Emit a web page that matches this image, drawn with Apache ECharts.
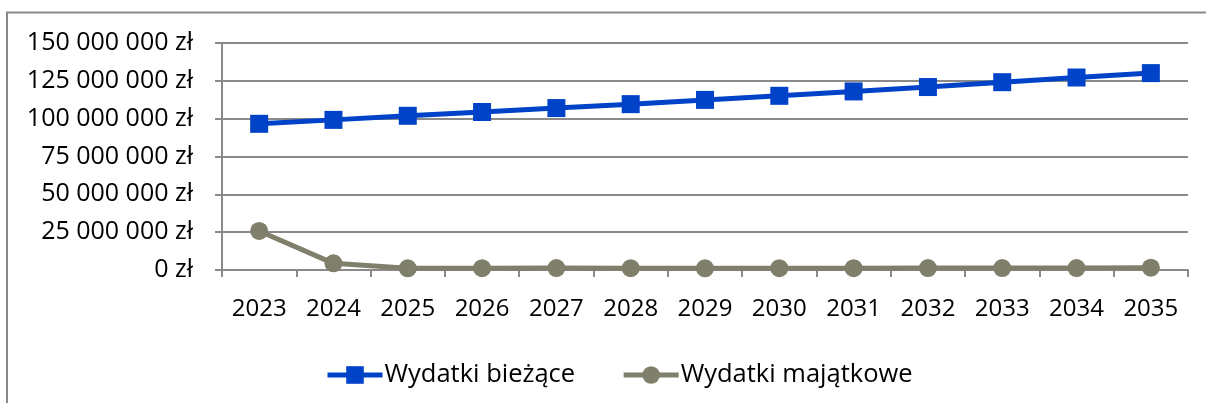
<!DOCTYPE html>
<html>
<head>
<meta charset="utf-8">
<style>
html,body{margin:0;padding:0;background:#fff;}
#chart{width:1206px;height:403px;}
</style>
<script src="https://cdn.jsdelivr.net/npm/echarts@6/dist/echarts.min.js"></script>
</head>
<body>
<div id="chart"></div>
<script>
const years = ['2023','2024','2025','2026','2027','2028','2029','2030','2031','2032','2033','2034','2035'];
const wydatkiBiezace = [96600000, 99200000, 101900000, 104400000, 107000000, 109600000, 112400000, 115100000, 118000000, 120900000, 124100000, 127200000, 130100000];
const wydatkiMajatkowe = [25800000, 4400000, 1100000, 1200000, 1300000, 1200000, 1100000, 1200000, 1200000, 1300000, 1300000, 1300000, 1500000];
const seriesNames = ['Wydatki bieżące', 'Wydatki majątkowe'];

const FONT = 'Open Sans';
const gridColor = '#8a8a8a';

function fmt(v){
  const s = Math.round(v).toString().replace(/\B(?=(\d{3})+(?!\d))/g, ' ');
  return s + ' zł';
}

const chart = echarts.init(document.getElementById('chart'), null, {renderer:'canvas'});
chart.setOption({
  animation:false,
  backgroundColor:'#fff',
  textStyle:{fontFamily:FONT},
  graphic:[{
    type:'polyline',
    shape:{points:[[7,403],[7,12.5],[1206,12.5]]},
    style:{stroke:'#888',lineWidth:2,fill:null}
  }],
  grid:{left:222,right:18,top:43,bottom:133,containLabel:false},
  legend:{
    data:seriesNames,
    top:357,
    left:320,
    itemWidth:55,
    itemHeight:22,
    itemGap:46,
    lineStyle:{width:5},
    textStyle:{fontFamily:FONT,fontSize:25.5,color:'#000',padding:[0,0,0,-3]}
  },
  xAxis:{
    type:'category',
    data:years,
    boundaryGap:true,
    axisLine:{lineStyle:{color:gridColor,width:2}},
    axisTick:{show:true,interval:0,length:7,lineStyle:{color:gridColor,width:2}},
    axisLabel:{fontFamily:FONT,fontSize:24,color:'#000',margin:27,interval:0,hideOverlap:false}
  },
  yAxis:{
    type:'value',
    min:0,max:150000000,interval:25000000,
    axisLine:{show:true,lineStyle:{color:gridColor,width:2}},
    axisTick:{show:true,length:7,lineStyle:{color:gridColor,width:2}},
    splitLine:{show:true,lineStyle:{color:gridColor,width:2}},
    axisLabel:{fontFamily:FONT,fontSize:25,color:'#000',margin:29,formatter:fmt}
  },
  series:[
    {
      name:seriesNames[0],
      type:'line',
      data:wydatkiBiezace,
      symbol:'rect',
      symbolSize:18,
      lineStyle:{color:'#0043c8',width:5},
      itemStyle:{color:'#0043c8'}
    },
    {
      name:seriesNames[1],
      type:'line',
      data:wydatkiMajatkowe,
      symbol:'circle',
      symbolSize:18,
      lineStyle:{color:'#7f7f6b',width:5},
      itemStyle:{color:'#7f7f6b'}
    }
  ]
});
</script>
</body>
</html>
